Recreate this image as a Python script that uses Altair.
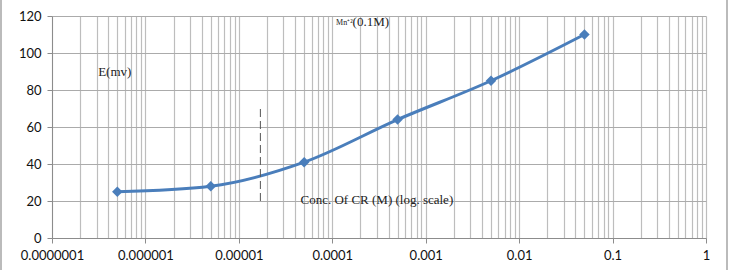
import altair as alt
import pandas as pd

# Measured electrode potential vs. concentration
conc = [5e-7, 5e-6, 5e-5, 5e-4, 5e-3, 5e-2]
emv = [25, 28, 41, 64, 85, 110]

# Log-axis decades and minor grid positions
decades = [1e-7, 1e-6, 1e-5, 1e-4, 1e-3, 1e-2, 1e-1, 1]
grid_vals = sorted({round(m * d, 12) for d in decades[:-1] for m in range(1, 10)} | {1.0})
y_ticks = [0, 20, 40, 60, 80, 100, 120]

# Dashed marker line
dash_x = [1.7e-5, 1.7e-5]
dash_y = [20, 70]

# Annotation texts
ann_text = ["E(mv)", "Conc. Of CR (M) (log. scale)"]
ann_x = [4.7e-7, 3.0e-4]
ann_y = [89.5, 20.5]

df = pd.DataFrame({"conc": conc, "emv": emv})
dash_df = pd.DataFrame({"x": dash_x, "y": dash_y})
ann_df = pd.DataFrame({"t": ann_text, "x": ann_x, "y": ann_y})

is_decade = "abs(log(datum.value)/LN10 - round(log(datum.value)/LN10)) < 1e-6"
serif = "Liberation Serif, Times New Roman, serif"

xscale = alt.Scale(type="log", domain=[1e-7, 1], nice=False)
yscale = alt.Scale(domain=[0, 120], nice=False)

xaxis = alt.Axis(
    values=grid_vals,
    title=None,
    grid=True,
    gridColor="#BDBDBD",
    gridWidth=1.2,
    domainColor="#8C8C8C",
    tickColor="#8C8C8C",
    tickSize=5,
    tickOpacity={"condition": {"test": is_decade, "value": 1}, "value": 0},
    labelExpr=f"({is_decade}) ? format(datum.value, '.7~f') : ''",
    labelFont="Lato",
    labelFontSize=13,
    labelColor="#111111",
    labelPadding=6,
    labelFlush=False,
    labelOverlap=False,
)
yaxis = alt.Axis(
    values=y_ticks,
    tickCount=7,
    title=None,
    grid=True,
    gridColor="#ABABAB",
    gridWidth=1.2,
    domainColor="#8C8C8C",
    tickColor="#8C8C8C",
    tickSize=5,
    labelFont="Lato",
    labelFontSize=13,
    labelColor="#111111",
    labelPadding=6,
    labelOverlap=False,
    labelFlush=False,
)


def xy(xf, yf):
    return dict(
        x=alt.X(xf, scale=xscale, axis=xaxis),
        y=alt.Y(yf, scale=yscale, axis=yaxis),
    )


base = alt.Chart(df)

line = base.mark_line(
    color="#4A7EBB", strokeWidth=3, interpolate="monotone"
).encode(**xy("conc:Q", "emv:Q"))

points = base.mark_point(
    shape="diamond", filled=True, size=110, color="#4A7EBB", opacity=1
).encode(**xy("conc:Q", "emv:Q"))

dash = alt.Chart(dash_df).mark_line(
    color="#555555", strokeWidth=1, strokeDash=[8, 4]
).encode(**xy("x:Q", "y:Q"))

labels = alt.Chart(ann_df).mark_text(
    font=serif, fontSize=13, color="#222222", align="center", baseline="middle"
).encode(text="t:N", **xy("x:Q", "y:Q"))

mn_df = pd.DataFrame({"x": [1.65e-4], "y": [116.8]})
mn = alt.Chart(mn_df).mark_text(
    font=serif, fontSize=8, color="#222222", align="right", baseline="middle", dy=1
).encode(text=alt.value("Mn⁺²"), **xy("x:Q", "y:Q"))
conc_lbl = alt.Chart(mn_df).mark_text(
    font=serif, fontSize=13, color="#222222", align="left", baseline="middle"
).encode(text=alt.value("(0.1M)"), **xy("x:Q", "y:Q"))

# Thin frame edges at the left and right of the chart area
frame_left = alt.Chart(df).mark_rule(color="#BBBBBB", strokeWidth=1.5).encode(
    x=alt.value(-51), y=alt.value(-16), y2=alt.value(254)
)
frame_right = alt.Chart(df).mark_rule(color="#BBBBBB", strokeWidth=1.5).encode(
    x=alt.value(675), y=alt.value(-16), y2=alt.value(254)
)

chart = (
    alt.layer(line, dash, points, labels, mn, conc_lbl, frame_left, frame_right)
    .properties(
        width=654,
        height=222,
        padding={"left": 52, "top": 16, "right": 24, "bottom": 32},
        autosize=alt.AutoSizeParams(type="none"),
        background="white",
    )
    .configure_view(stroke=None, clip=False)
)

chart.save("out.html", embed_options={"renderer": "svg", "actions": False})
